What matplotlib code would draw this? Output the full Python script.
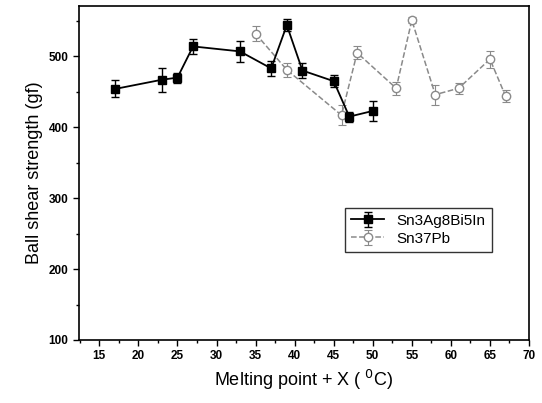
import matplotlib
matplotlib.use("Agg")
import matplotlib.pyplot as plt
from matplotlib.ticker import MultipleLocator

plt.rcParams["font.family"] = ["Liberation Sans", "DejaVu Sans"]

# Sn3Ag8Bi5In
x_bi = [17, 23, 25, 27, 33, 37, 39, 41, 45, 47, 50]
y_bi = [454, 467, 470, 514, 507, 483, 544, 480, 465, 415, 423]
e_bi = [12, 17, 7, 10, 15, 11, 8, 11, 8, 7, 14]

# Sn37Pb
x_pb = [35, 39, 46, 48, 53, 55, 58, 61, 65, 67]
y_pb = [532, 481, 417, 505, 455, 551, 446, 455, 496, 444]
e_pb = [11, 10, 14, 9, 9, 4, 14, 8, 12, 8]

fig = plt.figure(figsize=(5.42, 4.03), dpi=100)
ax = fig.add_axes([79 / 542, 1 - 340 / 403, 450 / 542, 334 / 403])

ax.errorbar(x_bi, y_bi, yerr=e_bi, color="black", marker="s", markersize=6,
            linestyle="-", linewidth=1.3, capsize=3, elinewidth=1, capthick=1,
            label="Sn3Ag8Bi5In", zorder=3)
ax.errorbar(x_pb, y_pb, yerr=e_pb, color="#8a8a8a", marker="o", markersize=6,
            markerfacecolor="white", linestyle="--", linewidth=1.1, capsize=3,
            elinewidth=0.8, capthick=0.8, label="Sn37Pb", zorder=2)

ax.set_xlim(12.4, 70)
ax.set_ylim(100, 571)
ax.xaxis.set_major_locator(MultipleLocator(5))
ax.xaxis.set_minor_locator(MultipleLocator(2.5))
ax.yaxis.set_major_locator(MultipleLocator(100))
ax.yaxis.set_minor_locator(MultipleLocator(50))
ax.tick_params(which="major", direction="out", length=4, width=1)
ax.tick_params(which="minor", direction="out", length=2.5, width=1)
for lab in ax.get_xticklabels() + ax.get_yticklabels():
    lab.set_fontsize(8.5)
    lab.set_fontweight("bold")
for s in ax.spines.values():
    s.set_linewidth(1.2)

ax.set_xlabel("Melting point + X ( $^{0}$C)", fontsize=13)
ax.set_ylabel("Ball shear strength (gf)", fontsize=13)

leg = ax.legend(loc="upper left", bbox_to_anchor=(258 / 450, 1 - 194 / 334),
                fontsize=11, frameon=True, fancybox=False, edgecolor="black",
                handlelength=2.2, borderpad=0.4, labelspacing=0.25)
leg.get_frame().set_linewidth(1)

fig.savefig("out.png", dpi=100)
